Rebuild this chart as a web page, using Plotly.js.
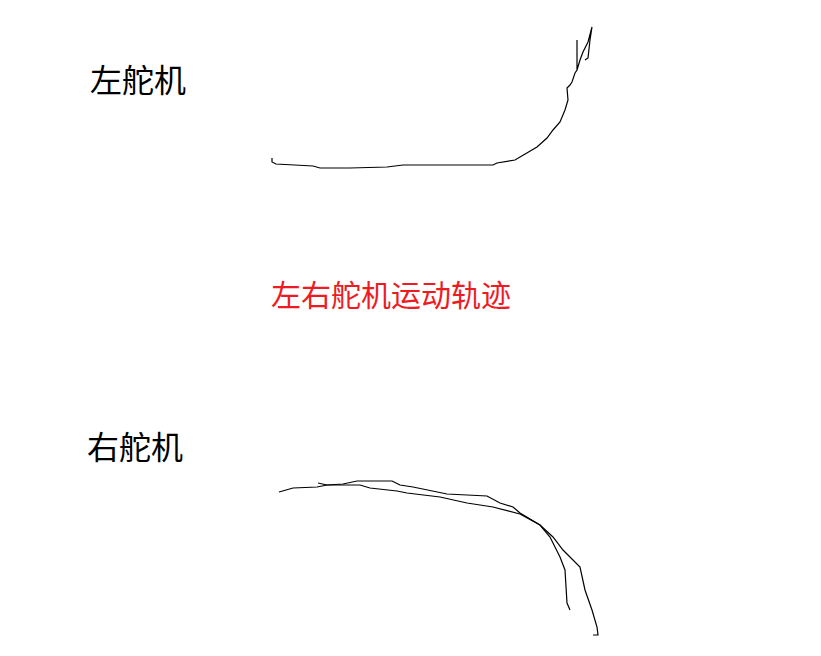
<!DOCTYPE html>
<html>
<head>
<meta charset="utf-8">
<script src="https://cdn.plot.ly/plotly-3.0.1.min.js"></script>
<style>html,body{margin:0;padding:0;background:#fff;}#chart{width:821px;height:656px;}</style>
</head>
<body>
<div id="chart"></div>
<script>
// Left servo trajectory
const leftX = [272,272,276,302,313,320,350,387,403,493,497,515,520,527,537,547,553,560,565,568,567,570,572,575,577,577,577,580,583,588,590,592,590,588,585];
const leftY = [158,162,164,165,166,168,168,167,165,165,163,160,157,153,147,138,130,122,110,100,88,85,82,73,70,40,70,60,52,42,33,27,40,58,60];
// Right servo trajectory, pass A
const rightAX = [279,293,317,327,360,370,397,407,440,467,493,520,540,550,560,565,567,570];
const rightAY = [492,488,487,485,485,488,491,493,497,503,507,514,525,537,557,570,603,610];
// Right servo trajectory, pass B
const rightBX = [318,327,343,357,392,400,413,447,487,500,513,520,540,553,563,580,585,592,597,598,593];
const rightBY = [483,485,484,481,481,485,487,494,496,503,507,513,525,537,550,567,590,610,627,635,635];
// Labels
const labelLeft = "左舵机";
const labelRight = "右舵机";
const chartTitle = "左右舵机运动轨迹";

const lineStyle = {color: '#000', width: 1.2, shape: 'linear'};
const traces = [
  {x: leftX, y: leftY, mode: 'lines', line: lineStyle, hoverinfo: 'skip'},
  {x: rightAX, y: rightAY, mode: 'lines', line: lineStyle, hoverinfo: 'skip'},
  {x: rightBX, y: rightBY, mode: 'lines', line: lineStyle, hoverinfo: 'skip'}
];
const font = "'Noto Sans CJK SC', 'Microsoft YaHei', sans-serif";
const layout = {
  width: 821, height: 656,
  margin: {l: 0, r: 0, t: 0, b: 0},
  paper_bgcolor: '#fff', plot_bgcolor: '#fff',
  showlegend: false,
  xaxis: {range: [0, 821], visible: false, fixedrange: true},
  yaxis: {range: [656, 0], visible: false, fixedrange: true},
  annotations: [
    {x: 138, y: 78, xref: 'x', yref: 'y', text: labelLeft, showarrow: false,
     font: {family: font, size: 32, color: '#000'}},
    {x: 391, y: 293, xref: 'x', yref: 'y', text: chartTitle, showarrow: false,
     font: {family: font, size: 30, color: '#ed1c24'}},
    {x: 135, y: 445, xref: 'x', yref: 'y', text: labelRight, showarrow: false,
     font: {family: font, size: 32, color: '#000'}}
  ]
};
Plotly.newPlot('chart', traces, layout, {staticPlot: true, displayModeBar: false});
</script>
</body>
</html>
